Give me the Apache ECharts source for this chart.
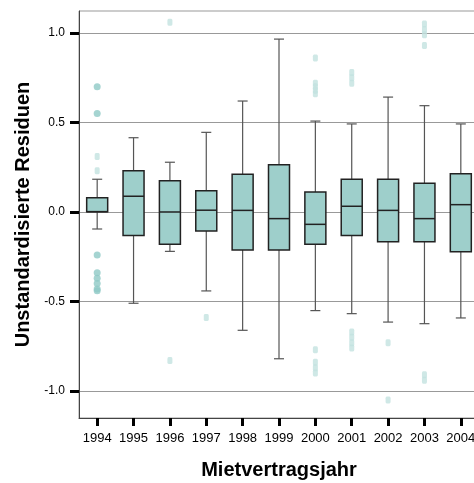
<!DOCTYPE html>
<html>
<head>
<meta charset="utf-8">
<script src="https://cdn.jsdelivr.net/npm/echarts@6/dist/echarts.min.js"></script>
<style>
  html, body { margin: 0; padding: 0; background: #fff; }
  #chart { width: 474px; height: 483px; }
</style>
</head>
<body>
<div id="chart"></div>
<script>
// Mietvertragsjahr
const years = ['1994', '1995', '1996', '1997', '1998', '1999', '2000', '2001', '2002', '2003', '2004']

// [lower whisker, Q1, median, Q3, upper whisker]
const boxStats = [
  [-0.095, 0.002, 0.002, 0.080, 0.183],
  [-0.510, -0.132, 0.088, 0.231, 0.415],
  [-0.220, -0.180, 0.000, 0.175, 0.278],
  [-0.441, -0.106, 0.010, 0.119, 0.445],
  [-0.661, -0.212, 0.009, 0.211, 0.620],
  [-0.820, -0.212, -0.037, 0.264, 0.966],
  [-0.551, -0.180, -0.069, 0.112, 0.508],
  [-0.568, -0.132, 0.032, 0.183, 0.492],
  [-0.615, -0.166, 0.009, 0.183, 0.642],
  [-0.624, -0.166, -0.037, 0.160, 0.594],
  [-0.592, -0.222, 0.041, 0.214, 0.492]
]

// Ausreißer (gefüllte Kreise)
const outliers = [
  [0, 0.70], [0, 0.55], [0, -0.24], [0, -0.34], [0, -0.37], [0, -0.40], [0, -0.43], [0, -0.44]
]

// Extremwerte / Fallbeschriftungen (hell)
const extremes = [
  [0, 0.31], [0, 0.23],
  [2, 1.06], [2, -0.83],
  [3, -0.59],
  [6, 0.86], [6, 0.72], [6, 0.70], [6, 0.68], [6, 0.66], [6, -0.77], [6, -0.84], [6, -0.87], [6, -0.90],
  [7, 0.78], [7, 0.75], [7, 0.72], [7, -0.67], [7, -0.70], [7, -0.73], [7, -0.76],
  [8, -0.73], [8, -1.05],
  [9, 1.05], [9, 1.02], [9, 0.99], [9, 0.93], [9, -0.91], [9, -0.94]
]

const yTicks = [-1.0, -0.5, 0.0, 0.5, 1.0]

const chart = echarts.init(document.getElementById('chart'))

const boxData = boxStats.map((s, i) => [i, ...s])

function renderBox(params, api) {
  const i = api.value(0)
  const pLo = api.coord([i, api.value(1)])
  const pQ1 = api.coord([i, api.value(2)])
  const pMed = api.coord([i, api.value(3)])
  const pQ3 = api.coord([i, api.value(4)])
  const pHi = api.coord([i, api.value(5)])
  const cx = pQ1[0]
  const half = 10.5
  const cap = 5
  const whisker = { stroke: '#555', lineWidth: 1.2 }
  return {
    type: 'group',
    children: [
      { type: 'line', shape: { x1: cx, y1: pHi[1], x2: cx, y2: pQ3[1] }, style: whisker },
      { type: 'line', shape: { x1: cx, y1: pLo[1], x2: cx, y2: pQ1[1] }, style: whisker },
      { type: 'line', shape: { x1: cx - cap, y1: pHi[1], x2: cx + cap, y2: pHi[1] }, style: whisker },
      { type: 'line', shape: { x1: cx - cap, y1: pLo[1], x2: cx + cap, y2: pLo[1] }, style: whisker },
      {
        type: 'rect',
        shape: { x: cx - half, y: pQ3[1], width: half * 2, height: pQ1[1] - pQ3[1] },
        style: { fill: '#9ecfcb', stroke: '#222', lineWidth: 1.5 }
      },
      {
        type: 'line',
        shape: { x1: cx - half, y1: pMed[1], x2: cx + half, y2: pMed[1] },
        style: { stroke: '#222', lineWidth: 1.5 }
      }
    ]
  }
}

chart.setOption({
  animation: false,
  grid: {
    left: 79, top: 11, width: 400, height: 407,
    containLabel: false,
    outerBoundsMode: 'none',
    show: true,
    borderColor: '#999',
    borderWidth: 1
  },
  xAxis: {
    type: 'category',
    data: years,
    boundaryGap: true,
    name: 'Mietvertragsjahr',
    nameLocation: 'middle',
    nameGap: 42,
    nameTextStyle: { fontFamily: 'Liberation Sans', fontWeight: 'bold', fontSize: 20, color: '#000' },
    axisLine: { onZero: false, lineStyle: { color: '#444', width: 1 } },
    axisTick: { show: true, interval: 0, alignWithLabel: true, length: 8, lineStyle: { color: '#000', width: 3 } },
    axisLabel: { interval: 0, fontFamily: 'Liberation Sans', fontSize: 13, color: '#000', margin: 14 },
    splitLine: { show: false }
  },
  yAxis: {
    type: 'value',
    min: -1.151,
    max: 1.123,
    name: 'Unstandardisierte Residuen',
    nameLocation: 'middle',
    nameGap: 42,
    nameTextStyle: { fontFamily: 'Liberation Sans', fontWeight: 'bold', fontSize: 20, color: '#000' },
    axisLine: { show: true, lineStyle: { color: '#444', width: 1 } },
    axisTick: { show: true, length: 9, customValues: yTicks, lineStyle: { color: '#000', width: 3 } },
    axisLabel: {
      customValues: yTicks,
      fontFamily: 'Liberation Sans', fontSize: 12, color: '#000', margin: 14,
      formatter: (v) => v.toFixed(1)
    },
    splitLine: { show: true, lineStyle: { color: '#999', width: 1 } }
  },
  series: [
    {
      type: 'custom',
      renderItem: renderBox,
      data: boxData,
      encode: { x: 0, y: [1, 2, 3, 4, 5] },
      z: 3
    },
    {
      type: 'scatter',
      data: outliers,
      symbol: 'circle',
      symbolSize: 7,
      itemStyle: { color: '#8fc9c5' },
      z: 4
    },
    {
      type: 'scatter',
      data: extremes,
      symbol: 'roundRect',
      symbolSize: [5, 7],
      itemStyle: { color: '#c3e2e0' },
      z: 4
    }
  ]
})
</script>
</body>
</html>
